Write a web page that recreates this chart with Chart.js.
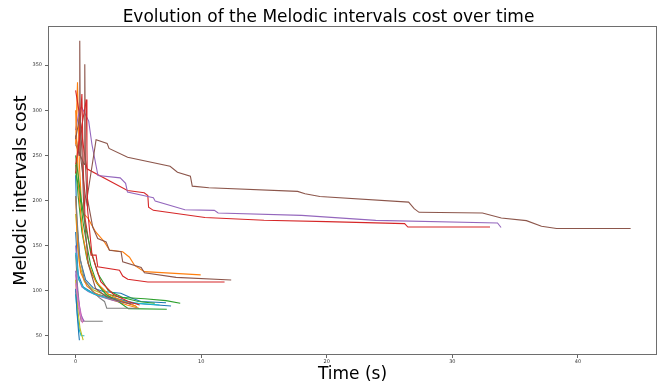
<!DOCTYPE html>
<html lang="en">
<head>
<meta charset="UTF-8">
<title>Melodic intervals cost</title>
<script src="https://cdn.jsdelivr.net/npm/chart.js@4"></script>
<style>
  html, body { margin: 0; padding: 0; background: #fff; }
  #chart { display: block; }
</style>
</head>
<body>
<canvas id="chart" width="659" height="385"></canvas>
<script>
  // tick labels
  const xTicks = [0, 10, 20, 30, 40];
  const yTicks = [50, 100, 150, 200, 250, 300, 350];

  // one pair of arrays per run: time (s) and melodic intervals cost
  const t1 = [0, 0.1, 0.35, 0.8, 1.4, 2.2, 3.6, 4.4, 5.2, 7.2];
  const c1 = [228, 175, 135, 112, 103, 99, 97, 92, 88, 86.6];
  const t2 = [0, 0.15, 0.3, 0.45, 0.6, 1.0, 1.23, 1.6, 2.29, 2.69, 3.75, 4.29, 4.69, 5.48, 9.96];
  const c2 = [262, 331, 240, 200, 186, 180, 174, 165, 154, 145, 143, 137, 128, 121, 117.4];
  const t3 = [0, 0.2, 0.5, 0.9, 1.3, 1.9, 2.6, 3.5, 5.5, 7.2, 8.33];
  const c3 = [240, 205, 165, 135, 118, 105, 96, 92.6, 91, 88.9, 86];
  const t4 = [0, 0.3, 0.6, 0.9, 4.13, 5.46, 5.75, 5.81, 6.19, 10.3, 15.0, 20.0, 26.2, 26.46, 33.0];
  const c4 = [322, 296, 262, 235, 211, 208.5, 205.5, 192.6, 189, 181, 178, 176.5, 174.3, 170.5, 170.5];
  const t5 = [0, 0.3, 0.46, 1.04, 1.3, 1.78, 3.55, 3.98, 4.13, 5.75, 6.19, 6.34, 8.7, 11.05, 11.35, 18.0, 23.9, 33.6, 33.88];
  const c5 = [278, 300, 304, 288, 262, 227.6, 225, 219, 209.2, 204.4, 203, 199.2, 189.7, 189, 186, 183.4, 177.9, 175, 170];
  const t6 = [0, 0.28, 0.33, 0.38, 0.6, 0.85, 1.63, 2.51, 2.66, 4.14, 7.52, 8.11, 9.14, 9.29, 10.61, 17.68, 18.27, 19.45, 26.52, 26.96, 27.35, 32.4, 33.9, 35.9, 37.1, 38.3, 44.2];
  const c6 = [272, 250, 377, 250, 225, 197, 267.3, 263.2, 257.7, 247.8, 237.9, 231.2, 226.8, 215.8, 214, 210, 207.4, 204.4, 198.1, 190.8, 186.8, 186, 180.5, 177.6, 171.3, 168.8, 168.8];
  const t7 = [0, 0.2, 0.45, 0.6];
  const c7 = [100, 82, 67, 65];
  const t8 = [0, 0.15, 0.35, 0.45, 2.16];
  const c8 = [140, 105, 75, 66, 66];
  const t9 = [0, 0.3, 0.7, 1.4, 2.5, 3.8, 4.9];
  const c9 = [185, 130, 110, 101, 94, 88, 82];
  const t10 = [0, 0.15, 0.3, 0.44, 0.7];
  const c10 = [96, 72, 56, 50, 50];
  const t11 = [0, 0.2, 0.6, 1.4, 2.6, 3.6, 4.6, 7.6];
  const c11 = [165, 118, 104, 97, 93, 90, 86, 83];
  const t12 = [0, 0.15, 0.4, 0.9, 1.6, 2.4, 3.3, 4.1, 5.03];
  const c12 = [205, 150, 120, 105, 97, 92, 88, 84, 80.5];
  const t13 = [0, 0.3, 0.6, 0.9, 1.2, 1.7, 2.4, 3.4, 4.2, 7.26];
  const c13 = [232, 210, 175, 150, 128, 108, 96, 88, 80, 79.4];
  const t14 = [0, 0.25, 0.5, 0.62, 0.75, 1.1, 1.23, 1.63, 1.76, 3.49, 3.75, 4.15, 5.75, 11.86];
  const c14 = [230, 262, 318, 230, 180, 150, 139.3, 139.3, 126.4, 122.7, 116.1, 112.5, 109.5, 109.5];
  const t15 = [0, 0.2, 0.5, 1.0, 1.8, 3.0, 4.6];
  const c15 = [150, 115, 104, 99, 94, 89, 85];
  const t16 = [0, 0.68, 0.73, 0.78, 0.9, 1.36, 1.76, 2.43, 2.69, 3.62, 3.75, 5.22, 5.48, 8.0, 12.39];
  const c16 = [262, 240, 351, 240, 205, 170.5, 157.7, 154, 144.8, 143, 131.9, 125.7, 119.8, 114.7, 111.7];
  const t17 = [0, 0.15, 0.35, 0.5, 0.7];
  const c17 = [118, 95, 80, 70, 66];
  const t18 = [0, 0.3, 0.7, 1.3, 1.9, 2.3, 2.48, 5.0];
  const c18 = [205, 140, 112, 100, 92, 88, 80.5, 80.5];
  const t19 = [0, 0.15, 0.35, 0.6];
  const c19 = [112, 82, 58, 45];
  const t20 = [0, 0.25, 0.7, 1.5, 2.5, 3.6, 5.0, 6.68];
  const c20 = [142, 112, 102, 96, 92, 89, 86, 84];
  const t21 = [0, 0.12, 0.25, 0.3];
  const c21 = [102, 74, 52, 45];
  const t22 = [0, 0.1, 0.3, 0.6, 1.0, 1.6, 2.6, 3.8, 4.8];
  const c22 = [300, 262, 200, 160, 130, 110, 96, 88, 83];
  const t23 = [0, 0.2, 0.45, 0.8, 1.2, 1.8, 2.6, 3.8, 5.0, 6.3];
  const c23 = [250, 228, 200, 170, 145, 118, 100, 92, 88, 86];
  const t24 = [0, 0.4, 0.85, 0.9, 0.95, 1.3, 2.0, 3.0, 4.2, 5.1];
  const c24 = [240, 275, 312, 260, 190, 140, 110, 96, 88, 84];
  const t25 = [0, 0.2, 0.4, 0.65];
  const c25 = [122, 92, 74, 66];
  const t26 = [0, 0.35, 0.5, 0.65, 1.0, 1.6, 2.5, 3.6, 4.4];
  const c26 = [268, 295, 255, 190, 130, 102, 93, 88, 85];
  const t27 = [0, 0.2, 0.4, 0.55];
  const c27 = [108, 88, 72, 64];

  const runs = [
    [t1, c1], [t2, c2], [t3, c3], [t4, c4], [t5, c5], [t6, c6], [t7, c7], [t8, c8], [t9, c9],
    [t10, c10], [t11, c11], [t12, c12], [t13, c13], [t14, c14], [t15, c15], [t16, c16], [t17, c17],
    [t18, c18], [t19, c19], [t20, c20], [t21, c21], [t22, c22], [t23, c23], [t24, c24], [t25, c25],
    [t26, c26], [t27, c27]
  ];

  // matplotlib tab10
  const palette = ['#1f77b4', '#ff7f0e', '#2ca02c', '#d62728', '#9467bd',
                   '#8c564b', '#e377c2', '#7f7f7f', '#bcbd22', '#17becf'];

  Chart.defaults.font.family = "'DejaVu Sans', sans-serif";

  // full box around the plot, like matplotlib spines
  const frame = {
    id: 'frame',
    afterDraw(chart) {
      const { ctx, chartArea: a } = chart;
      ctx.save();
      ctx.strokeStyle = '#6e6e6e';
      ctx.lineWidth = 1;
      ctx.strokeRect(a.left + 0.5, a.top + 0.5, a.right - a.left - 1, a.bottom - a.top - 1);
      ctx.restore();
    }
  };

  const tickGrid = { drawOnChartArea: false, drawTicks: true, tickLength: 3, color: '#666' };

  const ctx = document.getElementById('chart').getContext('2d');
  new Chart(ctx, {
    type: 'line',
    data: {
      datasets: runs.map(([t, c], i) => ({
        data: t.map((x, k) => ({ x: x, y: c[k] })),
        borderColor: palette[i % 10],
        backgroundColor: palette[i % 10],
        order: runs.length - i
      }))
    },
    options: {
      responsive: false,
      animation: false,
      devicePixelRatio: 1,
      layout: { padding: { left: 0, right: 2, top: 0, bottom: 0 } },
      elements: {
        line: { borderWidth: 1.1, tension: 0, fill: false },
        point: { radius: 0 }
      },
      plugins: {
        legend: { display: false },
        tooltip: { enabled: false },
        title: {
          display: true,
          text: 'Evolution of the Melodic intervals cost over time',
          color: '#000',
          font: { size: 17, weight: 'normal', lineHeight: 1 },
          padding: { top: 9, bottom: 0 }
        }
      },
      scales: {
        x: {
          type: 'linear',
          min: -2.2,
          max: 46.3,
          afterBuildTicks: s => { s.ticks = xTicks.map(v => ({ value: v })); },
          afterFit: s => { s.height = 30; },
          ticks: { font: { size: 5 }, color: '#333', padding: 1, maxRotation: 0 },
          grid: tickGrid,
          border: { display: false },
          title: {
            display: true, text: 'Time (s)', color: '#000',
            font: { size: 17 }, padding: { top: 0, bottom: 0 }
          }
        },
        y: {
          type: 'linear',
          min: 28.6,
          max: 393.4,
          afterBuildTicks: s => { s.ticks = yTicks.map(v => ({ value: v })); },
          afterFit: s => { s.width = 48; },
          ticks: { font: { size: 5 }, color: '#333', padding: 3 },
          grid: tickGrid,
          border: { display: false },
          title: {
            display: true, text: 'Melodic intervals cost', color: '#000',
            font: { size: 17.5 }, padding: { top: 11, bottom: 0 }
          }
        }
      }
    },
    plugins: [frame]
  });
</script>
</body>
</html>
